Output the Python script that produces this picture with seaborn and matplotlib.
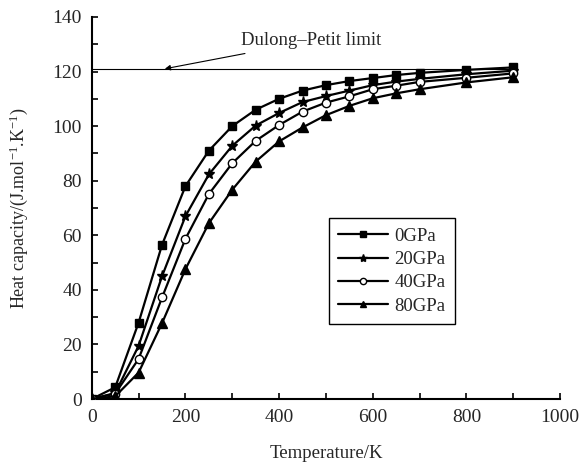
import matplotlib
matplotlib.use("Agg")
import matplotlib.pyplot as plt
import matplotlib.ticker as ticker
import seaborn as sns
import pandas as pd

# Data
temperature = [0, 50, 100, 150, 200, 250, 300, 350, 400, 450, 500, 550, 600, 650, 700, 800, 900]
cv_0gpa = [0, 4.3, 28, 56.5, 78, 91, 100, 106, 110, 113, 115, 116.5, 117.6, 118.7, 119.5, 120.6, 121.5]
cv_20gpa = [0, 2.2, 19.5, 45, 67, 82.3, 92.8, 100.2, 104.8, 108.8, 111, 113, 115, 116.3, 117.3, 119, 120.3]
cv_40gpa = [0, 2, 14.7, 37.2, 58.7, 75.1, 86.4, 94.6, 100.4, 105.3, 108.6, 110.9, 113.5, 114.8, 116.2, 117.7, 119.3]
cv_80gpa = [0, 1, 9.7, 27.8, 47.6, 64.4, 76.7, 87, 94.4, 99.5, 104, 107.4, 110.2, 112, 113.5, 116, 117.9]
series_names = ["0GPa", "20GPa", "40GPa", "80GPa"]
dulong_petit = 121

markers = {"0GPa": "s", "20GPa": "*", "40GPa": "o", "80GPa": "^"}
marker_sizes = {"0GPa": 5.5, "20GPa": 8, "40GPa": 6, "80GPa": 6.5}
face_colors = {"0GPa": "black", "20GPa": "black", "40GPa": "white", "80GPa": "black"}

df = pd.DataFrame({
    "T": temperature * 4,
    "Cv": cv_0gpa + cv_20gpa + cv_40gpa + cv_80gpa,
    "P": [n for n in series_names for _ in temperature],
})

sns.set_style("ticks")
plt.rcParams["font.family"] = ["Liberation Serif", "DejaVu Serif"]
plt.rcParams["mathtext.fontset"] = "custom"
plt.rcParams["mathtext.rm"] = "Liberation Serif"
plt.rcParams["mathtext.it"] = "Liberation Serif:italic"

fig = plt.figure(figsize=(5.81, 4.70), dpi=100)
ax = fig.add_axes([0.158, 0.151, 0.806, 0.813])

# Dulong-Petit limit line
ax.plot([0, 900], [dulong_petit, dulong_petit], color="black", lw=0.8, zorder=1)

for name in series_names:
    sub = df[df["P"] == name]
    sns.lineplot(data=sub, x="T", y="Cv", ax=ax, color="black", lw=1.6,
                 marker=markers[name], markersize=marker_sizes[name],
                 markerfacecolor=face_colors[name], markeredgecolor="black",
                 markeredgewidth=1.0, label=name, zorder=3)

ax.annotate("Dulong\u2013Petit limit", xy=(156, dulong_petit), xytext=(318, 131.2),
            fontsize=13.5, va="center", ha="left",
            arrowprops=dict(arrowstyle="-|>", color="black", lw=0.8,
                            mutation_scale=8, shrinkA=3, shrinkB=0))

ax.set_xlim(0, 1000)
ax.set_ylim(0, 140)
ax.xaxis.set_major_locator(ticker.MultipleLocator(200))
ax.xaxis.set_minor_locator(ticker.MultipleLocator(100))
ax.yaxis.set_major_locator(ticker.MultipleLocator(20))
ax.yaxis.set_minor_locator(ticker.MultipleLocator(10))
ax.tick_params(which="both", direction="in", length=4, width=1.2, color="black")
ax.tick_params(which="major", labelsize=14, pad=7)

for side in ["top", "right"]:
    ax.spines[side].set_visible(False)
for side in ["left", "bottom"]:
    ax.spines[side].set_linewidth(1.5)
    ax.spines[side].set_color("black")

ax.set_xlabel("Temperature/K", fontsize=13.5, labelpad=14)
ax.set_ylabel("Heat capacity/(J.mol$^{-1}$.K$^{-1}$)", fontsize=13, labelpad=16)

leg = ax.legend(loc="upper left", bbox_to_anchor=(0.506, 0.473), fontsize=13.5,
                frameon=True, fancybox=False, handlelength=2.65, handletextpad=0.35,
                labelspacing=0.33, borderpad=0.5, markerscale=0.75, borderaxespad=0)
leg.get_frame().set_edgecolor("black")
leg.get_frame().set_linewidth(1.0)
leg.get_frame().set_alpha(1)

fig.savefig("out.png", dpi=100)
